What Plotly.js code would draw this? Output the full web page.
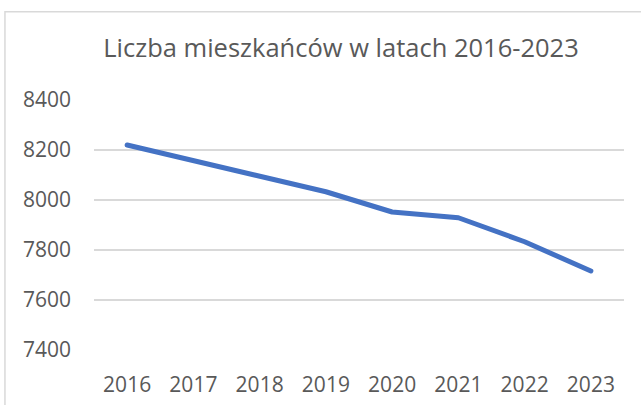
<!DOCTYPE html>
<html>
<head>
<meta charset="utf-8">
<script src="https://cdn.plot.ly/plotly-3.0.1.min.js"></script>
<style>
  html, body { margin: 0; padding: 0; background: #fff; }
  #chart { width: 641px; height: 405px; }
  path.js-line { stroke-linecap: round !important; stroke-linejoin: round !important; }
</style>
</head>
<body>
<div id="chart"></div>
<script>
// Liczba mieszkańców 2016-2023 (Excel style line chart)

const YEARS = ['2016', '2017', '2018', '2019', '2020', '2021', '2022', '2023'];
const RESIDENTS = [8220, 8158, 8095, 8033, 7952, 7929, 7833, 7716];
const Y_TICKS = [7400, 7600, 7800, 8000, 8200, 8400];

const TITLE = 'Liczba mieszkańców w latach 2016-2023';
const FONT = '"Open Sans", "Liberation Sans", sans-serif';
const GREY = '#595959';
const GRID = '#d9d9d9';

function main() {
  let trace = {
    x: YEARS,
    y: RESIDENTS,
    type: 'scatter',
    mode: 'lines',
    line: {color: '#4472c4', width: 5},
    hoverinfo: 'skip',
    showlegend: false
  };

  let layout = {
    width: 641,
    height: 405,
    margin: {l: 94, r: 17, t: 99.5, b: 55},
    paper_bgcolor: '#fff',
    plot_bgcolor: '#fff',
    font: {family: FONT, color: GREY},
    title: {
      text: TITLE,
      font: {family: FONT, size: 25.5, color: GREY},
      x: 341 / 641,
      xanchor: 'center',
      y: 1 - 48.5 / 405,
      yanchor: 'middle'
    },
    xaxis: {
      type: 'category',
      range: [-0.5, YEARS.length - 0.5],
      showgrid: false,
      showline: false,
      zeroline: false,
      ticks: '',
      ticklabelstandoff: 20,
      tickfont: {family: FONT, size: 21, color: GREY},
      fixedrange: true
    },
    yaxis: {
      range: [7400, 8400],
      tickvals: Y_TICKS,
      ticktext: Y_TICKS.map(String),
      showgrid: true,
      gridcolor: GRID,
      gridwidth: 1.5,
      zeroline: false,
      showline: false,
      ticks: '',
      ticklabelstandoff: 22,
      tickfont: {family: FONT, size: 21, color: GREY},
      fixedrange: true
    },
    shapes: [{
      // chart area border (left and top edges visible)
      type: 'path',
      xref: 'paper', yref: 'paper',
      path: 'M -0.168 -0.3 L -0.168 1.353 L 1.1 1.353',
      line: {color: GRID, width: 1.5}
    }]
  };

  Plotly.newPlot('chart', [trace], layout, {displayModeBar: false, staticPlot: true});
}

window.onload = main;
</script>
</body>
</html>
